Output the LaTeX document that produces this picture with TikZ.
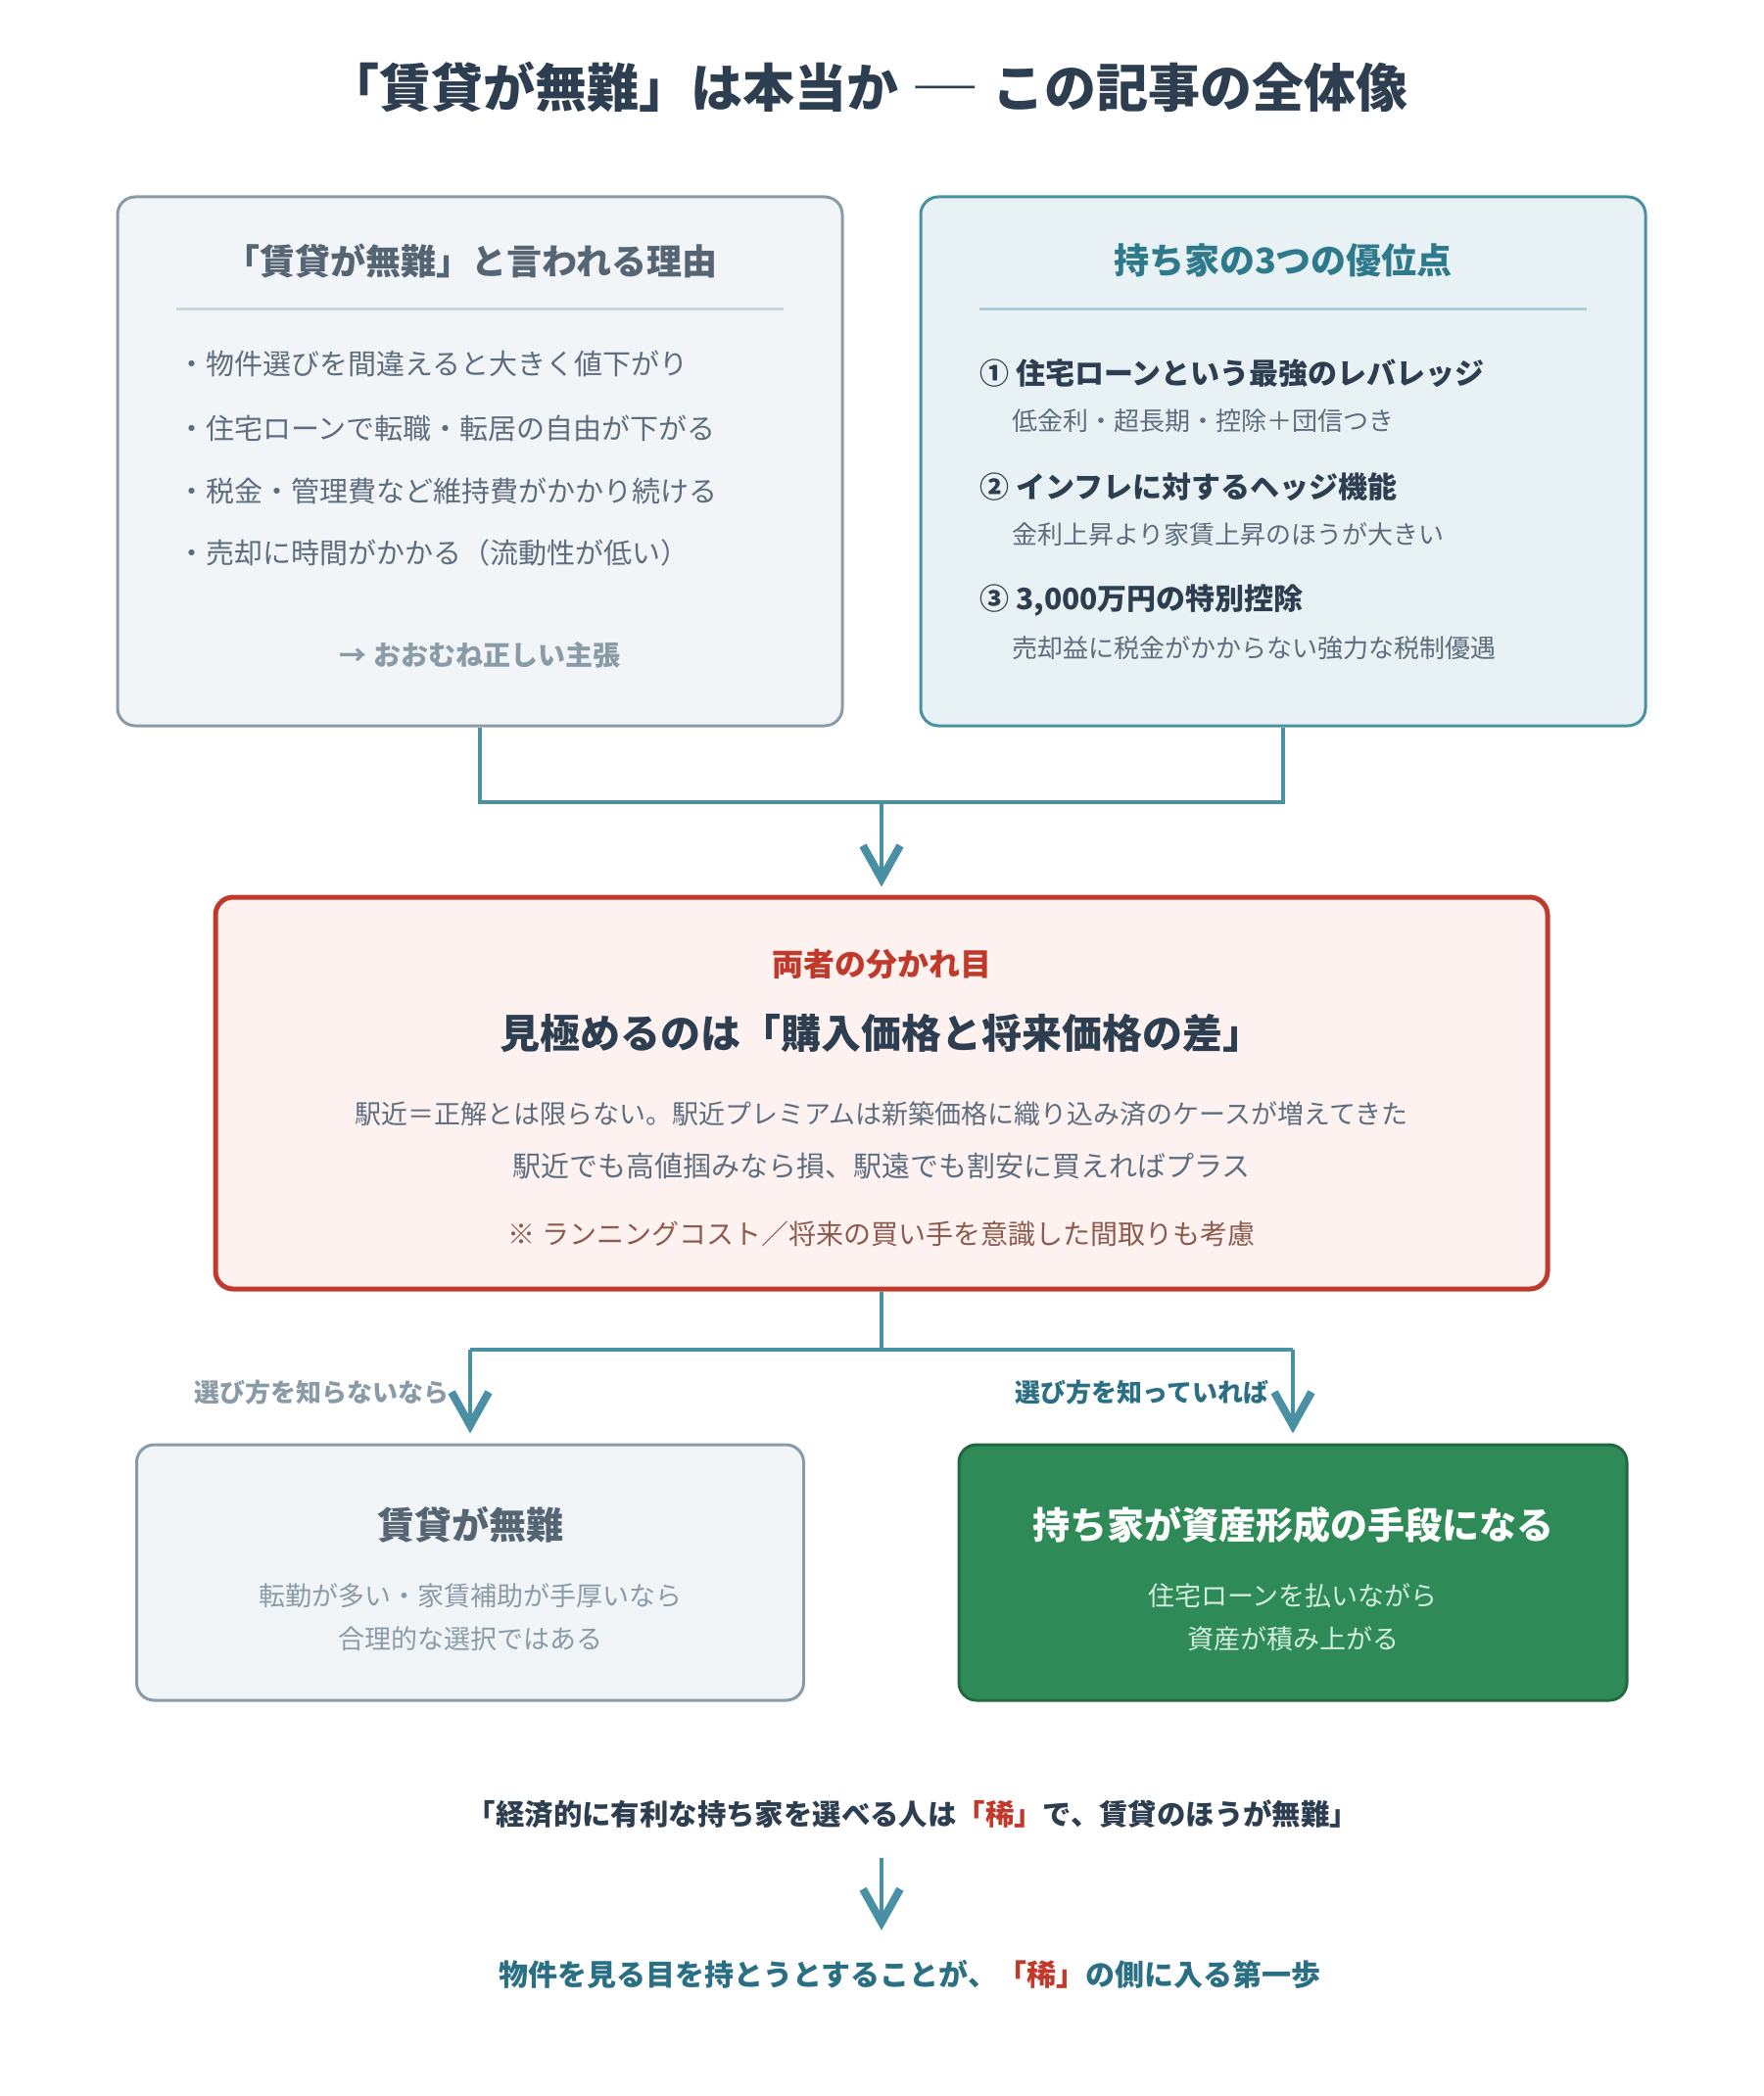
\documentclass[tikz,border=0pt]{standalone}
\usepackage{fontspec}
\setmainfont{Noto Sans CJK JP}
\usetikzlibrary{arrows.meta}

\definecolor{ink}{HTML}{2C3E50}
\definecolor{slate}{HTML}{5D6D7E}
\definecolor{slatedark}{HTML}{566573}
\definecolor{mist}{HTML}{8A9BA8}
\definecolor{rulegrey}{HTML}{CBD5DD}
\definecolor{paleslate}{HTML}{F2F5F8}
\definecolor{linkteal}{HTML}{4A90A4}
\definecolor{headteal}{HTML}{2E7A8C}
\definecolor{ruleteal}{HTML}{A9CCD8}
\definecolor{paleteal}{HTML}{E8F1F4}
\definecolor{alertred}{HTML}{C0392B}
\definecolor{palered}{HTML}{FDF2F0}
\definecolor{notebrown}{HTML}{8D5A4E}
\definecolor{leafgreen}{HTML}{2E8B57}
\definecolor{deepgreen}{HTML}{23693F}
\definecolor{mintwhite}{HTML}{D4EFDF}
\definecolor{stepteal}{HTML}{2A6F84}

\newcommand{\sz}[1]{\fontsize{#1}{#1}\selectfont}

\begin{document}
\begin{tikzpicture}[x=0.5pt,y=0.5pt,yscale=-1,
  panel/.style={draw, rounded corners=9pt, line width=1.5pt, inner sep=0pt},
  txt/.style={inner sep=0pt},
  conn/.style={draw=linkteal, line width=2pt},
  tip/.style={-{Straight Barb[length=17pt,width=19pt,line width=4pt]}},
  headline/.style={txt, font=\bfseries\sz{18}},
  bullet/.style={txt, anchor=west, text=slate, font=\sz{14.5}},
  merit/.style={txt, anchor=west, text=ink, font=\bfseries\sz{15}},
  meritsub/.style={txt, anchor=west, text=slate, font=\sz{13}},
  midline/.style={txt, text=slate, font=\sz{13.5}},
  branch/.style={txt, anchor=east, font=\bfseries\sz{13}},
  ]
\useasboundingbox (0,0) rectangle (1800,2140);
\coordinate (axis) at (900,0);

%Title
\node[txt, text=ink, font=\bfseries\sz{26.5}] (title) at (886,89) {「賃貸が無難」は本当か \scalebox{1.35}[1]{―} この記事の全体像};

%Reasons box
\node[panel, draw=mist, fill=paleslate, minimum width=370pt, minimum height=270pt] (reasons) at (490,471) {};
\node[headline, text=slatedark] (reasonshead) at (481,266) {「賃貸が無難」と言われる理由};
\draw[rulegrey, line width=1.5pt] (180,315) -- (800,315);
\node[bullet] (reason1) at (181,371) {・物件選びを間違えると大きく値下がり};
\node[bullet] (reason2) at (181,437) {・住宅ローンで転職・転居の自由が下がる};
\node[bullet] (reason3) at (181,501) {・税金・管理費など維持費がかかり続ける};
\node[bullet] (reason4) at (181,564) {・売却に時間がかかる（流動性が低い）};
\node[txt, text=mist, font=\bfseries\sz{14}] (verdict) at (490,669) {→ おおむね正しい主張};

%Merits box
\node[panel, draw=linkteal, fill=paleteal, minimum width=370pt, minimum height=270pt] (merits) at (1310,471) {};
\node[headline, text=headteal] (meritshead) at (1310,266) {持ち家の3つの優位点};
\draw[ruleteal, line width=1.5pt] (1000,315) -- (1620,315);
\node[merit] (merit1) at (1000,381) {① 住宅ローンという最強のレバレッジ};
\node[meritsub] (merit1sub) at (1033,430) {低金利・超長期・控除＋団信つき};
\node[merit] (merit2) at (1000,497) {② インフレに対するヘッジ機能};
\node[meritsub] (merit2sub) at (1033,546) {金利上昇より家賃上昇のほうが大きい};
\node[merit] (merit3) at (1000,613) {③ 3,000万円の特別控除};
\node[meritsub] (merit3sub) at (1033,662) {売却益に税金がかからない強力な税制優遇};

%Divide box
\node[panel, draw=alertred, fill=palered, line width=2.5pt, minimum width=680pt, minimum height=200pt] (divide) at (900,1116) {};
\node[txt, text=alertred, font=\bfseries\sz{16}] (dividehead) at (900,984) {両者の分かれ目};
\node[txt, text=ink, font=\bfseries\sz{20.5}] (dividekey) at (900,1055) {見極めるのは「購入価格と将来価格の差」};
\node[midline] (divide1) at (900,1137) {駅近＝正解とは限らない。駅近プレミアムは新築価格に織り込み済のケースが増えてきた};
\node[midline, font=\sz{14.5}] (divide2) at (900,1191) {駅近でも高値掴みなら損、駅遠でも割安に買えればプラス};
\node[txt, text=notebrown, font=\sz{14}] (dividenote) at (900,1260) {※ ランニングコスト／将来の買い手を意識した間取りも考慮};

%Outcome boxes
\node[panel, draw=mist, fill=paleslate, minimum width=340.5pt, minimum height=130.5pt] (renting) at (480,1605.5) {};
\node[txt, text=slatedark, font=\bfseries\sz{19}] (rentinghead) at (480,1557) {賃貸が無難};
\node[txt, text=mist, font=\sz{13.5}] (renting1) at (480,1629) {転勤が多い・家賃補助が手厚いなら};
\node[txt, text=mist, font=\sz{13.5}] (renting2) at (480,1673) {合理的な選択ではある};

\node[panel, draw=deepgreen, fill=leafgreen, minimum width=341pt, minimum height=130.5pt] (owning) at (1320,1605.5) {};
\node[txt, text=white, font=\bfseries\sz{19}] (owninghead) at (1320,1557) {持ち家が資産形成の手段になる};
\node[txt, text=mintwhite, font=\sz{13.5}] (owning1) at (1320,1629) {住宅ローンを払いながら};
\node[txt, text=mintwhite, font=\sz{13.5}] (owning2) at (1320,1673) {資産が積み上がる};

%Branch labels
\node[branch, text=mist] (unknowing) at (459,1422) {選び方を知らないなら};
\node[branch, text=stepteal] (knowing) at (1296,1422) {選び方を知っていれば};

%Conclusion
\node[txt, text=ink, font=\bfseries\sz{14.7}] (claim) at (932,1852) {「経済的に有利な持ち家を選べる人は\textcolor{alertred}{「稀」}で、賃貸のほうが無難」};
\node[txt, text=stepteal, font=\bfseries\sz{15}] (firststep) at (929,2016) {物件を見る目を持とうとすることが、\textcolor{alertred}{「稀」}の側に入る第一歩};

%Connectors top
\coordinate (upjoin) at (900,819);
\draw[conn] (reasons.south) |- (upjoin) -| (merits.south);
\draw[conn, tip, shorten >=4pt] (upjoin) -- (divide.north);

%Connectors bottom
\coordinate (downjoin) at (900,1378);
\coordinate (leftdrop) at (480,1378);
\coordinate (rightdrop) at (1320,1378);
\draw[conn] (divide.south) -- (downjoin);
\draw[conn] (leftdrop) -- (rightdrop);
\draw[conn, tip, shorten >=5pt] (leftdrop) -- (renting.north);
\draw[conn, tip, shorten >=5pt] (rightdrop) -- (owning.north);

%Conclusion arrow
\draw[conn, tip, shorten <=15pt, shorten >=15pt] (claim.south -| axis) -- (firststep.north -| axis);

\end{tikzpicture}
\end{document}
